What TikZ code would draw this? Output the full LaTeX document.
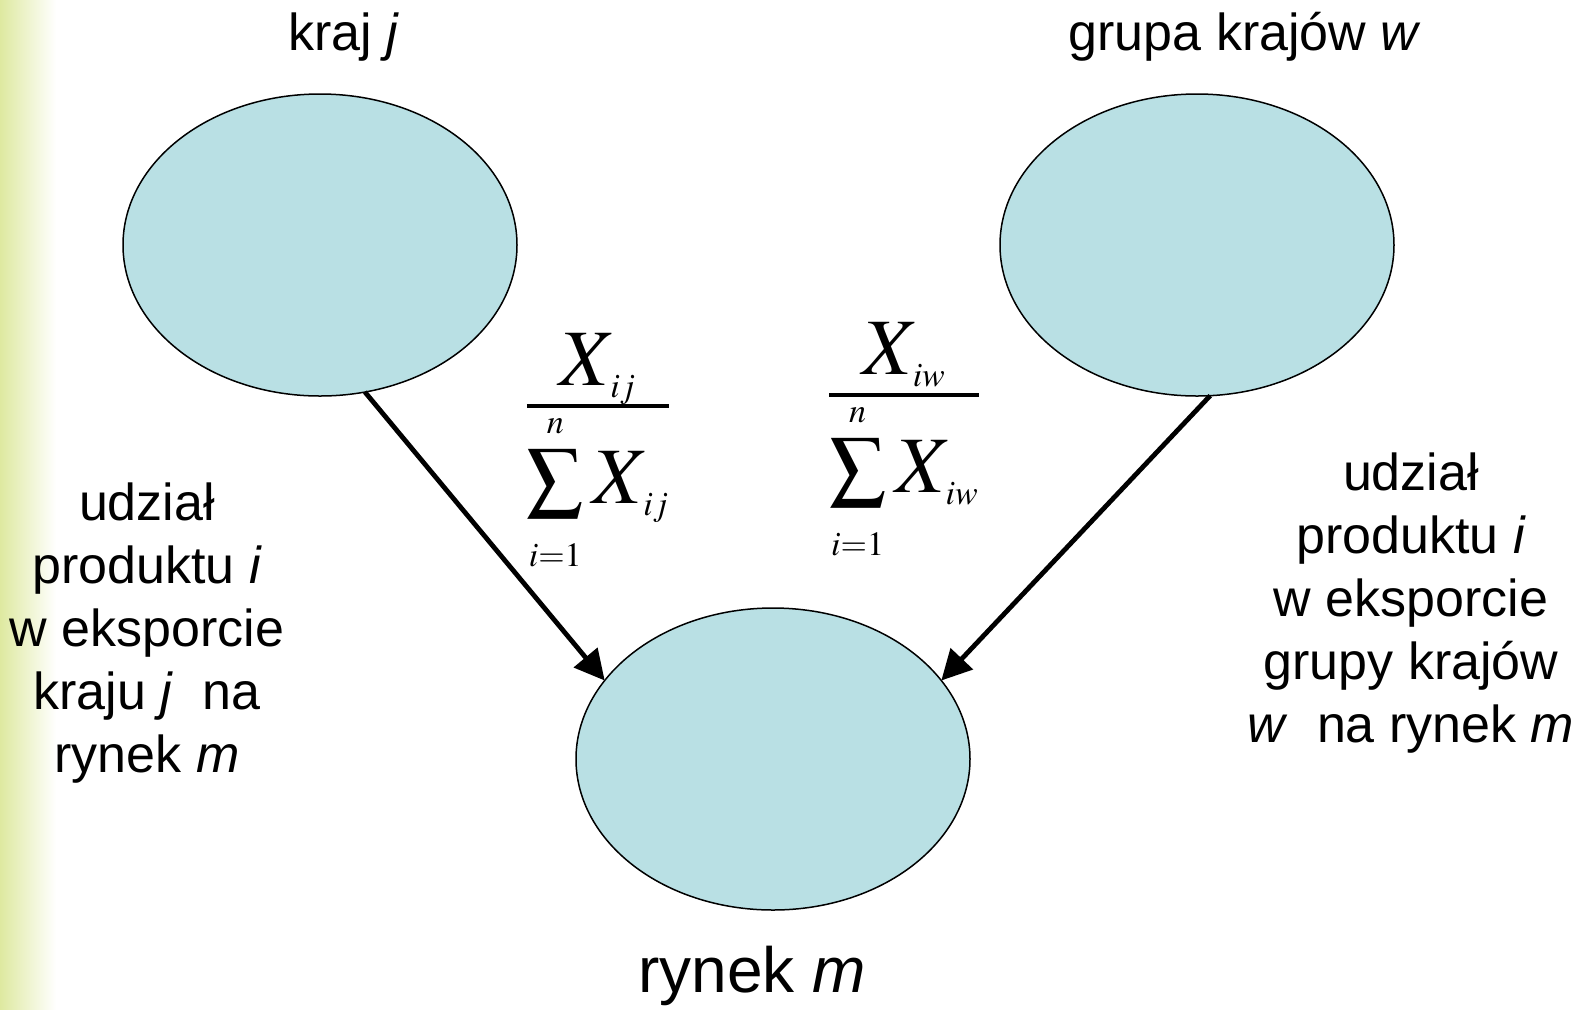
\documentclass[tikz,border=0pt]{standalone}
\usepackage{mathptmx}
\usepackage{fontspec}
\setmainfont{Liberation Sans}
\usetikzlibrary{shapes.geometric,arrows.meta}
\DeclareMathSizes{40}{40}{17}{14}
\definecolor{kolo}{RGB}{185,224,228}
\definecolor{pasek}{RGB}{222,233,160}
\begin{document}
\begin{tikzpicture}[x=0.5pt,y=-0.5pt,
  wezel/.style={ellipse,draw=black,line width=0.75pt,fill=kolo,minimum width=197pt,minimum height=151pt,inner sep=0pt,outer sep=0pt},
  strz/.style={line width=2.4pt,-{Triangle[length=15pt,width=15pt]}},
  opis/.style={font=\fontsize{26}{31.5}\selectfont,align=center,anchor=base},
  wzor/.style={font=\fontsize{40}{44}\selectfont,anchor=base,inner sep=0pt}]
\useasboundingbox (0,0) rectangle (1581,1009);
\shade[left color=pasek,right color=white] (0,0) rectangle (56,1009);

\node[wezel] (kraj) at (320,245) {};
\node[wezel] (grupa) at (1197,245) {};
\node[wezel] (rynek) at (773,759) {};

\draw[strz] (kraj.-73) -- (rynek.155);
\draw[strz] (grupa.-85) -- (rynek.25);

\node[opis] (kraj-t) at (344,50) {kraj \textit{j}};
\node[opis] (grupa-t) at (1245,50) {grupa krajów \textit{w}};
\node[opis,font=\fontsize{32}{36}\selectfont] (rynek-t) at (752,992) {rynek \textit{m}};

% bloki opisu: baza = ostatni wiersz
\node[opis] (lewy) at (147,772) {udział\\produktu \textit{i}\\w eksporcie\\kraju \textit{j}\ \ na\\rynek \textit{m}};
\node[opis] (prawy) at (1411,742) {udział\\produktu \textit{i}\\w eksporcie\\grupy krajów\\\textit{w}\ \ na rynek \textit{m}};

\node[wzor] (udzial-j) at (598,426) {$\textstyle\frac{\smash{\raise4.5pt\hbox{$\displaystyle X_{\,ij}$}}}{\textstyle\sum\limits_{i=1}^{n} X_{\,ij}}$};
\node[wzor] (udzial-w) at (904,415) {$\textstyle\frac{\smash{\raise4.5pt\hbox{$\displaystyle X_{\,iw}$}}}{\textstyle\sum\limits_{i=1}^{n} X_{\,iw}}$};
\end{tikzpicture}
\end{document}
